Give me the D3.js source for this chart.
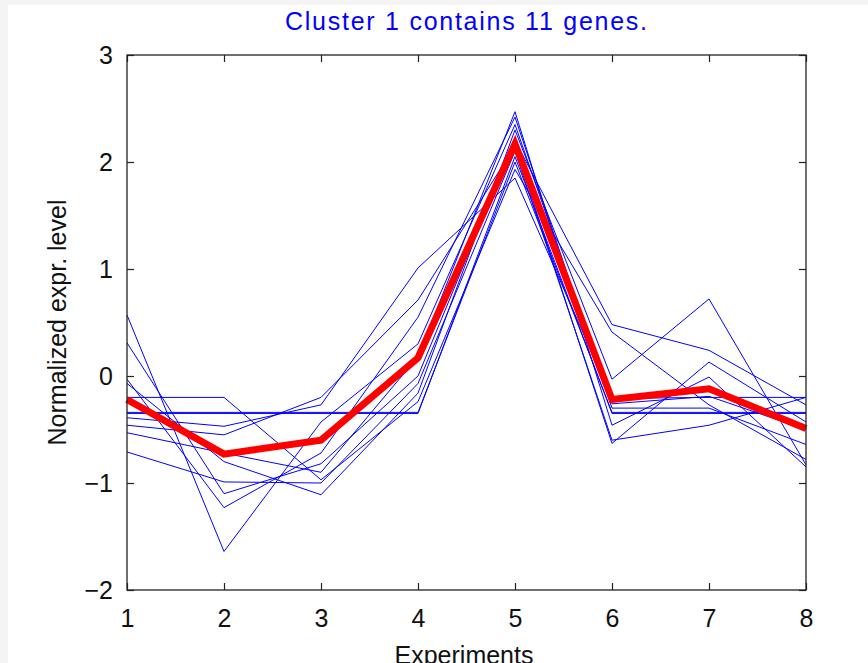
<!DOCTYPE html>
<html>
<head>
<meta charset="utf-8">
<script src="https://cdn.jsdelivr.net/npm/d3@7"></script>
<style>
  html, body { margin: 0; padding: 0; background: #f4f4f4; }
  svg { display: block; }
  text { font-family: "Liberation Sans", Arial, sans-serif; }
</style>
</head>
<body>
<svg id="chart" width="868" height="663"></svg>
<script>
// Experiments along the x axis
const experiments = [1, 2, 3, 4, 5, 6, 7, 8];

// Normalized expression profile of each gene in the cluster
const gene01 = [0.57, -1.64, -0.43, 0.30, 2.35, -0.26, -0.19, -0.50];
const gene02 = [0.31, -1.10, -0.82, 0.00, 2.20, 0.48, 0.24, -0.27];
const gene03 = [-0.03, -1.23, -0.72, 0.55, 2.42, -0.30, -0.30, -0.64];
const gene04 = [-0.07, -0.80, -1.11, -0.16, 2.30, -0.03, 0.72, -0.83];
const gene05 = [-0.20, -0.20, -0.97, -0.24, 1.93, 0.41, -0.27, -0.78];
const gene06 = [-0.35, -0.35, -0.35, -0.35, 2.05, -0.35, -0.35, -0.35];
const gene07 = [-0.34, -0.34, -0.34, -0.34, 2.00, -0.34, -0.34, -0.34];
const gene08 = [-0.39, -0.47, -0.27, 1.01, 1.85, -0.21, -0.20, -0.20];
const gene09 = [-0.46, -0.55, -0.20, 0.71, 2.15, -0.63, 0.13, -0.43];
const gene10 = [-0.53, -0.72, -0.90, 0.18, 2.47, -0.46, -0.01, -0.85];
const gene11 = [-0.71, -0.99, -1.00, -0.07, 2.10, -0.60, -0.46, -0.20];
const genes = [gene01, gene02, gene03, gene04, gene05, gene06,
               gene07, gene08, gene09, gene10, gene11];

// Cluster centroid profile
const centroid = [-0.22, -0.73, -0.60, 0.17, 2.17, -0.22, -0.12, -0.49];

// Axis ticks
const xTicks = [1, 2, 3, 4, 5, 6, 7, 8];
const yTicks = [-2, -1, 0, 1, 2, 3];

const titleText = "Cluster 1 contains " + genes.length + " genes.";

const svg = d3.select("#chart");

// White figure area
svg.append("rect")
  .attr("x", 8).attr("y", 5)
  .attr("width", 860).attr("height", 658)
  .attr("fill", "#ffffff");

const plot = { left: 127, right: 806, top: 55, bottom: 590 };

const x = d3.scaleLinear().domain([1, 8]).range([plot.left, plot.right]);
const y = d3.scaleLinear().domain([-2, 3]).range([plot.bottom, plot.top]);

const line = d3.line()
  .x((d, i) => x(experiments[i]))
  .y(d => y(d));

const fontSize = "25px";
const tickLen = 7;

// Axes with inward ticks on all four sides
const bottomAxis = svg.append("g")
  .attr("transform", `translate(0,${plot.bottom})`)
  .call(d3.axisBottom(x).tickValues(xTicks).tickFormat(d3.format("d"))
    .tickSizeInner(-tickLen).tickSizeOuter(0).tickPadding(19));
const topAxis = svg.append("g")
  .attr("transform", `translate(0,${plot.top})`)
  .call(d3.axisTop(x).tickValues(xTicks).tickFormat("")
    .tickSizeInner(-tickLen).tickSizeOuter(0));
const leftAxis = svg.append("g")
  .attr("transform", `translate(${plot.left},0)`)
  .call(d3.axisLeft(y).tickValues(yTicks).tickFormat(d3.format("d"))
    .tickSizeInner(-tickLen).tickSizeOuter(0).tickPadding(14));
const rightAxis = svg.append("g")
  .attr("transform", `translate(${plot.right},0)`)
  .call(d3.axisRight(y).tickValues(yTicks).tickFormat("")
    .tickSizeInner(-tickLen).tickSizeOuter(0));

[bottomAxis, topAxis, leftAxis, rightAxis].forEach(g => {
  g.select(".domain").remove();
  g.selectAll(".tick line").attr("stroke", "#222").attr("stroke-width", 1.2);
  g.selectAll("text")
    .attr("fill", "#111")
    .style("font-size", fontSize)
    .style("font-family", "'Liberation Sans', Arial, sans-serif");
});

// Gene profiles
svg.append("g")
  .attr("class", "genes")
  .selectAll("path")
  .data(genes)
  .join("path")
  .attr("d", line)
  .attr("fill", "none")
  .attr("stroke", "#0000ff")
  .attr("stroke-width", 1);

// Centroid
svg.append("path")
  .datum(centroid)
  .attr("d", line)
  .attr("fill", "none")
  .attr("stroke", "#ff0000")
  .attr("stroke-width", 7)
  .attr("stroke-linejoin", "miter");

// Frame
svg.append("rect")
  .attr("x", plot.left).attr("y", plot.top)
  .attr("width", plot.right - plot.left)
  .attr("height", plot.bottom - plot.top)
  .attr("fill", "none")
  .attr("stroke", "#222")
  .attr("stroke-width", 1.3);

// Title
svg.append("text")
  .attr("x", 466).attr("y", 30)
  .attr("text-anchor", "middle")
  .attr("fill", "#0000ff")
  .attr("textLength", 362)
  .attr("lengthAdjust", "spacing")
  .style("font-size", fontSize)
  .text(titleText);

// Axis titles
svg.append("text")
  .attr("x", 464).attr("y", 664)
  .attr("text-anchor", "middle")
  .attr("fill", "#111")
  .style("font-size", fontSize)
  .text("Experiments");

svg.append("text")
  .attr("transform", `translate(66,${(plot.top + plot.bottom) / 2}) rotate(-90)`)
  .attr("text-anchor", "middle")
  .attr("fill", "#111")
  .style("font-size", fontSize)
  .text("Normalized expr. level");
</script>
</body>
</html>
